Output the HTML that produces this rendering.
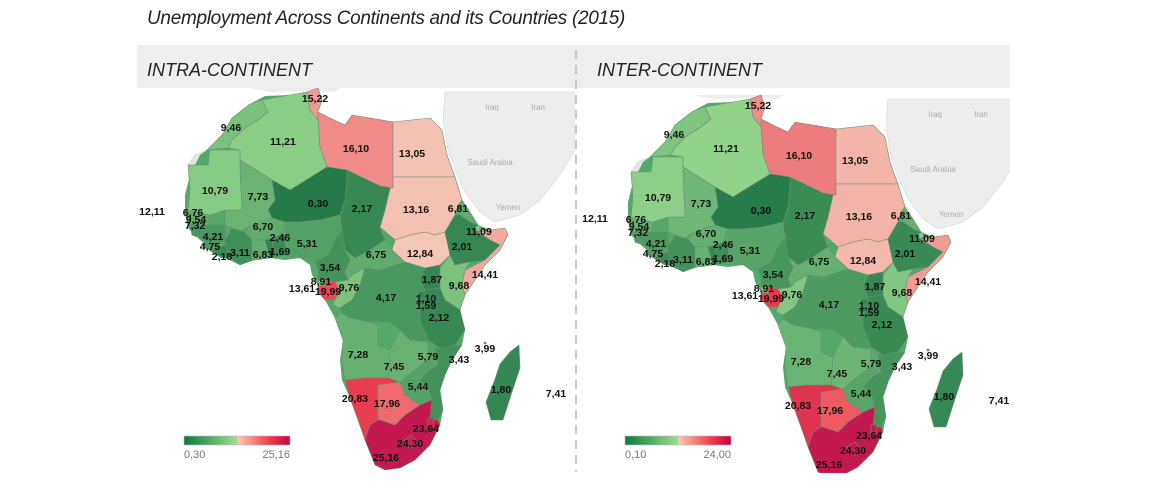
<!DOCTYPE html>
<html><head><meta charset="utf-8">
<style>
html,body{margin:0;padding:0;background:#fff;}
body{width:1150px;height:489px;overflow:hidden;position:relative;font-family:"Liberation Sans",sans-serif;}
#title{position:absolute;left:147px;top:8px;font-size:19px;font-style:italic;color:#222;letter-spacing:-0.3px;}
</style></head>
<body>
<div id="title">Unemployment Across Continents and its Countries (2015)</div>
<svg id="map" width="1150" height="489" style="position:absolute;left:0;top:0">
<defs>
<linearGradient id="lg" x1="0" x2="1" y1="0" y2="0">
<stop offset="0" stop-color="#0b7a3b"/><stop offset="0.5" stop-color="#a0de90"/>
<stop offset="0.51" stop-color="#ffc4b4"/><stop offset="0.8" stop-color="#f2404a"/><stop offset="1" stop-color="#c7003f"/>
</linearGradient>
<clipPath id="clipL"><rect x="137" y="88" width="438" height="385"/></clipPath>
<clipPath id="clipR"><rect x="578" y="88" width="432" height="385"/></clipPath>
</defs>
<rect x="137" y="45" width="873" height="43" fill="#efefef"/>
<text x="147" y="76" font-size="18" font-style="italic" fill="#222">INTRA-CONTINENT</text>
<text x="597" y="76" font-size="18" font-style="italic" fill="#222">INTER-CONTINENT</text>
<line x1="576" y1="50" x2="576" y2="472" stroke="#c8c8c8" stroke-width="2" stroke-dasharray="9,6"/>
<g id="left" clip-path="url(#clipL)"></g>
<g id="right" clip-path="url(#clipR)"></g>
<g id="legends"></g>
</svg>
<script>
// data
const countries=["Morocco","Algeria","Tunisia","Libya","Egypt","Sudan","South Sudan","Eritrea","Ethiopia","Djibouti","Somalia","Kenya","Uganda","Tanzania","Chad","Niger","Mali","Mauritania","Senegal","Guinea","Sierra Leone","Liberia","Cote d'Ivoire","Burkina Faso","Ghana","Togo","Benin","Nigeria","Cameroon","CAR","Equatorial Guinea","Gabon","Congo","DRC","Rwanda","Burundi","Angola","Zambia","Malawi","Mozambique","Zimbabwe","Namibia","Botswana","South Africa","Lesotho","Swaziland","Madagascar","Comoros","Mauritius","Cape Verde","Sao Tome","Gambia","Guinea-Bissau"];
const intraValues=[9.46,11.21,15.22,16.10,13.05,13.16,12.84,6.81,2.01,11.09,14.41,9.68,1.87,2.12,2.17,0.30,7.73,10.79,6.76,4.21,4.75,2.18,3.11,6.70,6.83,1.69,2.46,5.31,3.54,6.75,8.91,19.99,9.76,4.17,1.10,1.59,7.28,7.45,5.79,3.43,5.44,20.83,17.96,25.16,24.30,23.64,1.80,3.99,7.41,12.11,13.61,9.54,7.32];
const interValues=[9.46,11.21,15.22,16.10,13.05,13.16,12.84,6.81,2.01,11.09,14.41,9.68,1.87,2.12,2.17,0.30,7.73,10.79,6.76,4.21,4.75,2.18,3.11,6.70,6.83,1.69,2.46,5.31,3.54,6.75,8.91,19.99,9.76,4.17,1.10,1.59,7.28,7.45,5.79,3.43,5.44,20.83,17.96,25.16,24.30,23.64,1.80,3.99,7.41,12.11,13.61,9.54,7.32];
const intraRange=[0.30,25.16];
const interRange=[0.10,24.00];
const legendLabelsIntra=["0,30","25,16"];
const legendLabelsInter=["0,10","24,00"];

// geometry (map shapes and label anchors, left-panel coordinates)
const geo={
"Morocco":["207,150 222,135 232,118 250,104 262,100 268,112 258,120 245,128 232,140 228,148",231,127],
"Algeria":["228,148 232,140 245,128 258,120 268,112 262,100 290,95 307,92 310,110 318,120 320,147 327,167 290,190 272,180 240,160 240,150",283,141],
"Tunisia":["307,92 318,88 322,100 318,112 318,120 310,110",315,98],
"Libya":["318,112 330,118 345,125 352,115 370,118 393,122 393,188 380,186 347,170 327,167 320,147 318,120",356,148],
"Egypt":["393,122 430,118 442,130 447,155 455,177 393,177",412,153],
"Sudan":["393,177 455,177 462,200 458,205 455,215 445,232 435,235 425,232 410,235 395,240 380,227 385,210 390,188 393,188",416,209],
"South Sudan":["395,240 410,235 425,232 435,235 445,232 450,255 440,265 425,268 405,262 392,250",420,253],
"Eritrea":["458,205 462,200 470,212 478,225 470,222 460,215",458,208],
"Ethiopia":["455,215 460,215 470,222 478,225 478,232 490,240 500,245 485,260 470,262 455,265 450,255 445,232",462,246],
"Djibouti":["476,226 480,226 480,231 476,231",479,231],
"Somalia":["478,232 490,230 505,228 508,235 500,250 485,265 475,280 465,295 462,285 465,270 485,260 500,245 490,240",485,274],
"Kenya":["450,255 455,265 470,262 465,270 462,285 465,295 460,310 445,300 440,288 440,268",459,285],
"Uganda":["425,268 440,265 440,288 425,290 420,280",432,279],
"Tanzania":["425,290 440,288 445,300 460,310 465,330 455,345 440,348 428,340 420,320 420,300",439,317],
"Chad":["347,170 380,186 390,188 385,210 380,227 385,240 370,250 355,258 345,250 342,230 340,215 345,200 347,180",362,208],
"Niger":["272,180 290,190 327,167 347,170 347,180 345,200 340,215 320,220 300,222 285,222 272,218 268,210 275,200",318,203],
"Mali":["240,160 272,180 275,200 268,210 272,218 260,222 250,226 240,232 232,228 225,225 225,210 242,210 240,170",258,196],
"Mauritania":["188,165 208,165 210,150 225,150 240,150 240,160 240,170 242,210 225,210 210,215 200,213 188,210 190,190",215,190],
"Senegal":["188,210 200,213 210,215 208,225 190,225 185,215",193,212],
"Guinea":["190,225 208,225 225,225 225,240 215,248 205,240 192,235",213,236],
"Sierra Leone":["205,240 215,248 212,252 203,246",210,246],
"Liberia":["212,252 215,248 225,245 230,258 222,258",222,256],
"Cote d'Ivoire":["225,240 232,228 245,232 252,240 252,260 240,265 230,258 225,245",240,252],
"Burkina Faso":["245,232 250,226 260,222 272,218 285,222 280,235 265,240 252,240",263,226],
"Ghana":["252,240 265,240 270,258 255,260 252,260",263,254],
"Togo":["265,240 272,239 274,257 270,258",280,251],
"Benin":["272,239 280,235 285,235 286,255 274,257",280,237],
"Nigeria":["285,222 300,222 320,220 340,215 342,230 335,240 328,255 315,262 300,258 286,255 285,235",307,243],
"Cameroon":["328,255 335,240 342,230 345,250 350,260 345,272 348,280 335,282 318,280 318,270 315,262",330,267],
"CAR":["345,250 355,258 370,250 385,240 392,250 405,262 395,265 380,270 365,268 352,275 348,280 345,272 350,260",376,254],
"Equatorial Guinea":["318,280 325,280 325,286 318,286",321,281],
"Gabon":["318,286 325,286 325,280 335,282 340,290 335,300 325,300 318,292",328,291],
"Congo":["335,282 348,280 352,275 365,268 360,285 352,300 340,308 333,305 335,300 340,290",349,287],
"DRC":["365,268 380,270 395,265 405,262 425,268 420,280 425,290 420,300 420,320 428,340 420,345 410,340 400,330 390,322 370,322 350,318 340,312 340,308 352,300 360,285",386,297],
"Rwanda":["418,292 424,292 424,298 418,298",426,298],
"Burundi":["418,299 424,299 424,305 418,305",426,305],
"Angola":["340,312 350,318 370,322 378,325 378,345 390,350 388,378 365,378 345,380 342,360 343,340 335,318",358,354],
"Zambia":["390,350 400,330 410,340 428,342 428,360 412,372 400,382 388,378",394,366],
"Malawi":["428,342 435,348 438,365 432,368 428,360",428,356],
"Mozambique":["435,348 440,348 455,345 462,345 452,360 445,375 440,390 443,410 438,420 430,420 432,400 428,388 420,380 432,368 438,365",459,359],
"Zimbabwe":["412,372 428,360 432,368 420,380 428,388 432,400 420,405 405,395 400,382",418,386],
"Namibia":["345,380 365,378 388,378 400,382 378,385 378,420 370,425 365,440 358,420 350,398",355,398],
"Botswana":["378,385 400,382 405,395 420,405 405,415 395,425 380,420 378,420",387,403],
"South Africa":["365,440 370,425 378,420 380,420 395,425 405,415 420,405 432,400 430,420 438,420 440,425 430,445 415,460 400,468 385,470 375,465",386,457],
"Lesotho":["404,440 412,435 418,443 410,449",410,443],
"Swaziland":["428,418 434,418 433,427 428,427",426,428],
"Madagascar":["510,352 519,345 520,368 512,392 503,420 491,420 486,402 494,382 500,364",501,389],
"Comoros":["484,342 486,342 486,344 484,344",485,348],
"Mauritius":["",556,393],
"Cape Verde":["",152,211],
"Sao Tome":["",302,288],
"Gambia":["",196,219],
"Guinea-Bissau":["",195,225]
};
const outline="207,150 222,135 232,118 250,104 265,96 290,95 307,92 318,88 322,100 318,112 330,118 345,125 352,115 370,118 395,122 430,118 442,130 447,155 455,177 462,200 470,212 478,225 490,230 505,228 508,235 500,250 485,265 475,280 465,295 460,310 465,330 462,345 452,360 445,375 440,390 443,410 440,425 430,445 415,460 400,468 385,470 375,465 365,440 358,420 350,398 342,380 340,360 343,340 335,318 325,300 318,285 312,275 310,265 300,258 285,260 270,258 255,260 240,265 225,258 213,250 200,240 188,228 185,212 185,195 190,175 195,165 200,155";
const wsahara="188,165 195,155 207,150 228,148 225,150 210,150 208,165";
const arabia="445,92 575,92 575,150 560,175 540,200 520,215 495,222 480,212 465,192 456,172 448,150 443,120";
const europe="250,88 340,88 335,92 300,91 270,92";

const NS="http://www.w3.org/2000/svg";
function lerp(a,b,t){return Math.round(a+(b-a)*t);}
function mix(c1,c2,t){return "rgb("+lerp(c1[0],c2[0],t)+","+lerp(c1[1],c2[1],t)+","+lerp(c1[2],c2[2],t)+")";}
function colorScale(v,range){
  let t=(v-range[0])/(range[1]-range[0]);t=Math.max(0,Math.min(1,t));
  if(t<0.5) return mix([38,122,74],[152,218,142],t/0.5);
  if(t<0.8) return mix([244,200,184],[236,66,78],(t-0.5)/0.3);
  return mix([236,66,78],[196,24,80],(t-0.8)/0.2);
}
function fmt(v){return v.toFixed(2).replace(".",",");}
function el(tag,attrs,parent){const e=document.createElementNS(NS,tag);for(const k in attrs)e.setAttribute(k,attrs[k]);parent.appendChild(e);return e;}

function drawPanel(gid,values,range,dx,dy,prefix){
  const g=document.getElementById(gid);
  const inner=el("g",{transform:"translate("+dx+","+dy+")"},g);
  const me=el("polygon",{points:arabia,fill:"#ededed",stroke:"#d6d6d6","stroke-width":"0.6"},inner);
  
  
  const eu=el("polygon",{points:europe,fill:"#ededed"},inner);
  
  
  const ws=el("polygon",{points:wsahara,fill:"#e4e4e4",stroke:"#ccc","stroke-width":"0.6"},inner);
  
  
  const base=el("polygon",{points:outline,fill:"#52a96a"},inner);
  
  
  const labels=[["Iraq",492,110],["Iran",538,110],["Saudi Arabia",490,165],["Yemen",508,210]];
  labels.forEach(l=>{const t=el("text",{x:l[1],y:l[2],"font-size":"8","fill":"#aaa","text-anchor":"middle"},inner);t.textContent=l[0];
    
    });
  countries.forEach((c,i)=>{
    const gg=geo[c];if(!gg||!gg[0])return;
    const p=el("polygon",{points:gg[0],fill:colorScale(values[i],range),stroke:"#6d8f74","stroke-width":"0.6","stroke-linejoin":"round"},inner);
    
    
  });
  countries.forEach((c,i)=>{
    const gg=geo[c];if(!gg)return;
    const t=el("text",{x:gg[1],y:gg[2]+4,"font-size":"10.5","text-anchor":"middle","fill":"#111","font-weight":"bold"},inner);
    t.textContent=fmt(values[i]);
    
    
  });
}
drawPanel("left",intraValues,intraRange,0,0,"intra");
drawPanel("right",interValues,interRange,443,7,"inter");

function drawLegend(x,labels,prefix){
  const g=document.getElementById("legends");
  const r=el("rect",{x:x,y:436,width:106,height:9,fill:"url(#lg)",stroke:"#bbb","stroke-width":"0.6"},g);
  
  
  const a=el("text",{x:x,y:458,"font-size":"11","fill":"#777"},g);a.textContent=labels[0];
  
  
  const b=el("text",{x:x+106,y:458,"font-size":"11","fill":"#777","text-anchor":"end"},g);b.textContent=labels[1];
  
  
}
drawLegend(184,legendLabelsIntra,"intra");
drawLegend(625,legendLabelsInter,"inter");
</script>
</body></html>
